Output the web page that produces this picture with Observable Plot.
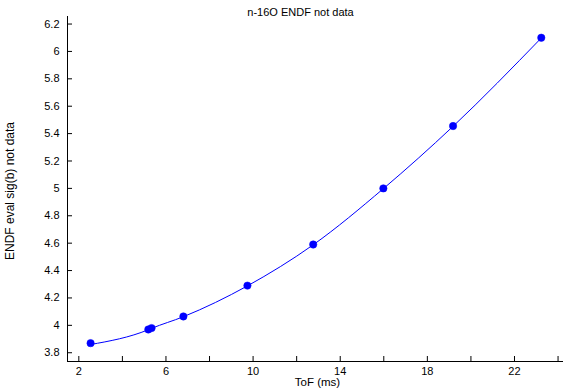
<!DOCTYPE html>
<html>
<head>
<meta charset="utf-8">
<script src="https://cdn.jsdelivr.net/npm/d3@7"></script>
<script src="https://cdn.jsdelivr.net/npm/@observablehq/plot@0.6"></script>
<style>
  html, body { margin: 0; padding: 0; background: #fff; }
  #chart svg { display: block; }
</style>
</head>
<body>
<div id="chart"></div>
<script>
// Data
const title = "n-16O ENDF not data";
const xLabel = "ToF (ms)";
const yLabel = "ENDF eval sig(b) not data";

// Marker points (ToF in ms, cross section in b)
const pointTof = [2.54, 5.19, 5.34, 6.80, 9.74, 12.76, 15.98, 19.18, 23.23];
const pointSig = [3.87, 3.97, 3.98, 4.065, 4.29, 4.59, 5.00, 5.455, 6.10];

// Evaluation curve samples
const curveTof = [2.54, 5.19, 5.34, 6.80, 9.74, 12.76, 15.98, 19.18, 23.23];
const curveSig = [3.86, 3.968, 3.978, 4.063, 4.288, 4.588, 4.998, 5.453, 6.098];

// Axis ticks
const xTickMarks = [2, 4, 6, 8, 10, 12, 14, 16, 18, 20, 22, 24];
const xTickLabels = [2, 6, 10, 14, 18, 22];
const yTicks = [3.8, 4.0, 4.2, 4.4, 4.6, 4.8, 5.0, 5.2, 5.4, 5.6, 5.8, 6.0, 6.2];

const xDomain = [1.48, 24.25];
const yDomain = [3.736, 6.255];

const points = pointTof.map((t, i) => ({tof: t, sig: pointSig[i]}));
const curve = curveTof.map((t, i) => ({tof: t, sig: curveSig[i]}));

const W = 588, H = 391;
const mL = 67, mR = 25, mT = 16, mB = 30;
const innerW = W - mL - mR, innerH = H - mT - mB;
const font = "'Liberation Sans', Arial, Helvetica, sans-serif";

const chart = Plot.plot({
  width: W,
  height: H,
  marginLeft: mL,
  marginRight: mR,
  marginTop: mT,
  marginBottom: mB,
  style: {fontFamily: font, fontSize: "11px", color: "#000", background: "#fff"},
  x: {domain: xDomain, axis: null},
  y: {domain: yDomain, axis: null},
  marks: [
    Plot.ruleY([yDomain[0]], {stroke: "#000", strokeWidth: 1}),
    Plot.ruleX([xDomain[0]], {stroke: "#000", strokeWidth: 1}),
    Plot.tickX(xTickMarks, {x: d => d, insetTop: innerH - 5, stroke: "#000"}),
    Plot.tickY(yTicks, {y: d => d, insetRight: innerW - 5, stroke: "#000"}),
    Plot.axisX({ticks: xTickLabels, tickSize: 0, tickPadding: 6, label: null, fontSize: 11, tickFormat: d => String(d)}),
    Plot.axisY({ticks: yTicks, tickSize: 0, tickPadding: 8, label: null, fontSize: 11, tickFormat: d => String(+d.toFixed(1))}),
    Plot.line(curve, {x: "tof", y: "sig", stroke: "#0000ff", strokeWidth: 1, curve: "monotone-x"}),
    Plot.dot(points, {x: "tof", y: "sig", r: 3.7, fill: "#0000ff", stroke: "#0000ff", strokeWidth: 0.5}),
    Plot.text([title], {text: d => d, frameAnchor: "top", dx: -15, dy: -8, fontSize: 11}),
    Plot.text([xLabel], {text: d => d, frameAnchor: "bottom", dx: 2, dy: 24, fontSize: 11.5}),
    Plot.text([yLabel], {text: d => d, frameAnchor: "left", textAnchor: "middle", rotate: -90, dx: -57, dy: 2, fontSize: 12})
  ]
});
document.getElementById("chart").appendChild(chart);
</script>
</body>
</html>
